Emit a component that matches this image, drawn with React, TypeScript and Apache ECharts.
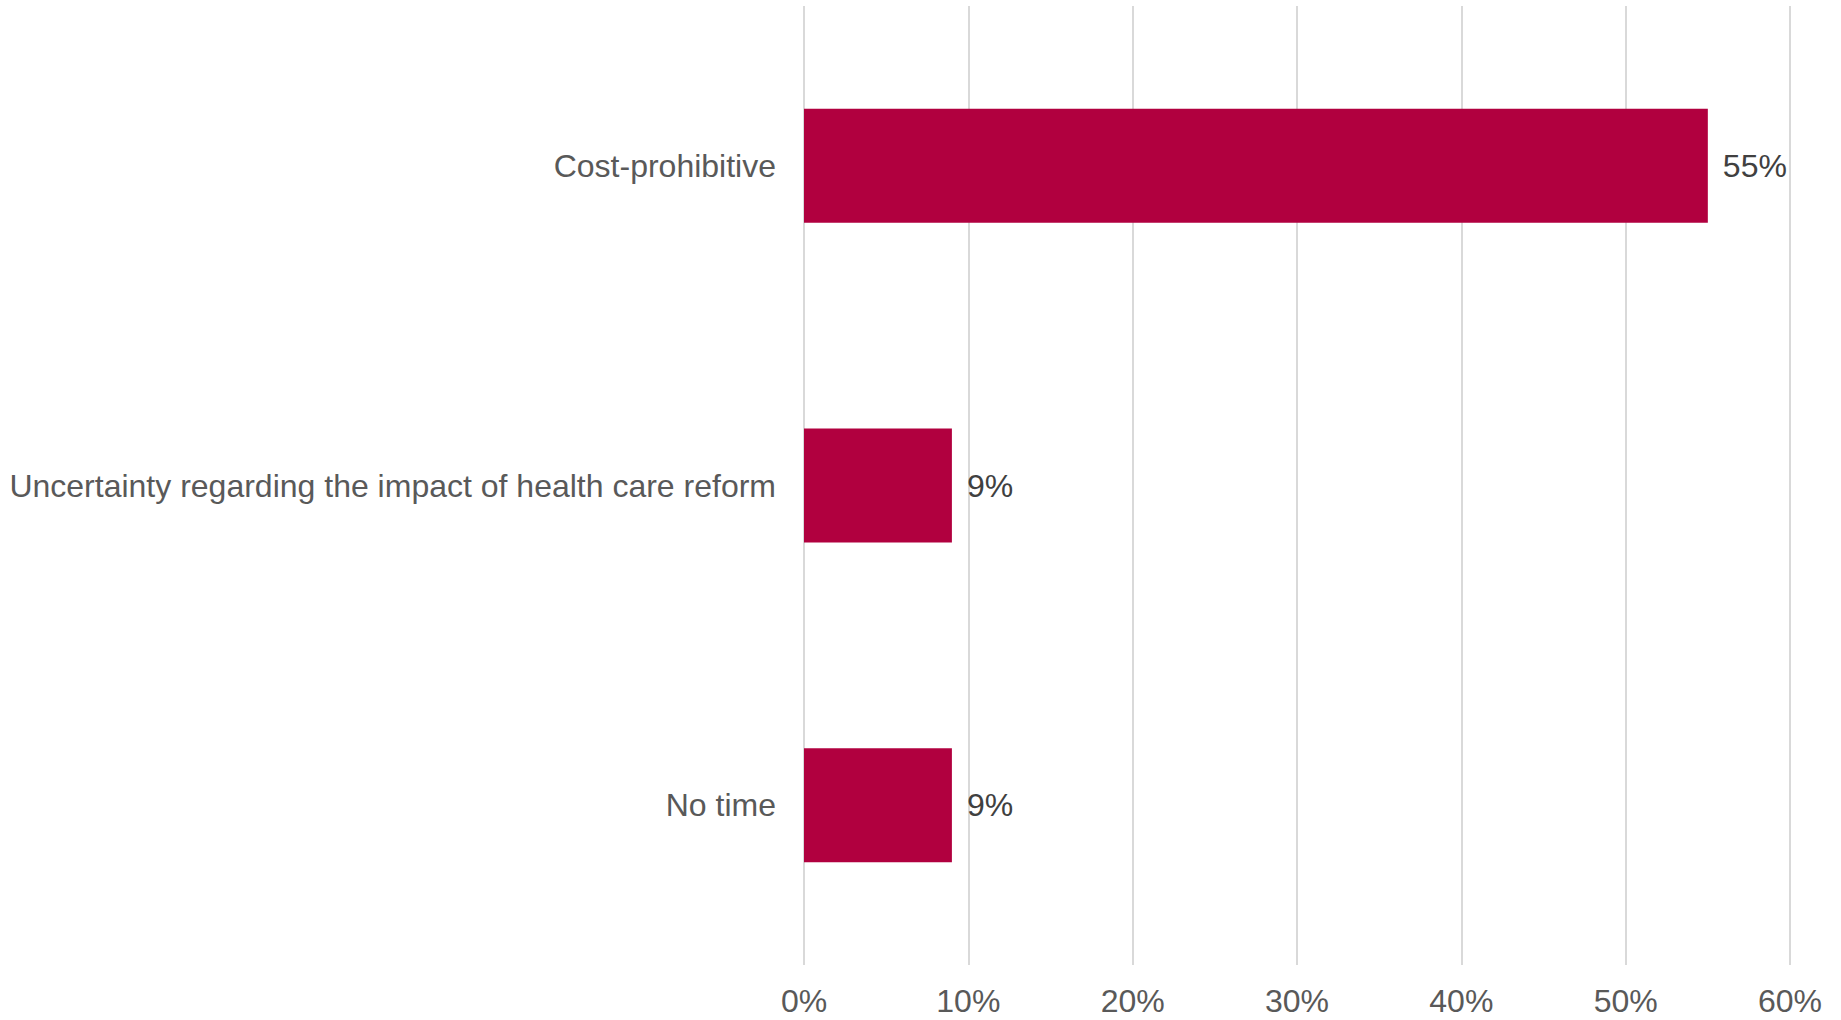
import React, { useEffect, useRef } from "react";
import * as echarts from "echarts";

const categories = ["Cost-prohibitive", "Uncertainty regarding the impact of health care reform", "No time"];
const values = [55, 9, 9];
const xTicks = { min: 0, max: 60, interval: 10 };

export default function App() {
  const ref = useRef<HTMLDivElement>(null);
  useEffect(() => {
    document.body.style.margin = "0";
    const chart = echarts.init(ref.current!, undefined, { renderer: "svg" });
    chart.setOption({
      animation: false,
      backgroundColor: "#ffffff",
      grid: { left: 804, right: 51, top: 6, bottom: 55, containLabel: false },
      xAxis: {
        type: "value",
        min: xTicks.min,
        max: xTicks.max,
        interval: xTicks.interval,
        axisLine: { show: false },
        axisTick: { show: false },
        splitLine: { show: true, lineStyle: { color: "#d9d9d9", width: 2 } },
        axisLabel: {
          formatter: (v: number) => v + "%",
          color: "#595959",
          fontSize: 32,
          fontFamily: "Liberation Sans, Arial, sans-serif",
          margin: 20,
        },
      },
      yAxis: {
        type: "category",
        data: categories,
        inverse: true,
        axisLine: { show: false },
        axisTick: { show: false },
        splitLine: { show: false },
        axisLabel: {
          color: "#595959",
          fontSize: 32,
          fontFamily: "Liberation Sans, Arial, sans-serif",
          margin: 28,
        },
      },
      series: [
        {
          type: "bar",
          data: values,
          barWidth: 114,
          itemStyle: { color: "#b1003f" },
          label: {
            show: true,
            position: "right",
            distance: 15,
            formatter: (p: any) => p.value + "%",
            color: "#404040",
            fontSize: 32,
            fontFamily: "Liberation Sans, Arial, sans-serif",
          },
        },
      ],
    });
    return () => chart.dispose();
  }, []);
  return <div ref={ref} style={{ width: 1841, height: 1020 }} />;
}
